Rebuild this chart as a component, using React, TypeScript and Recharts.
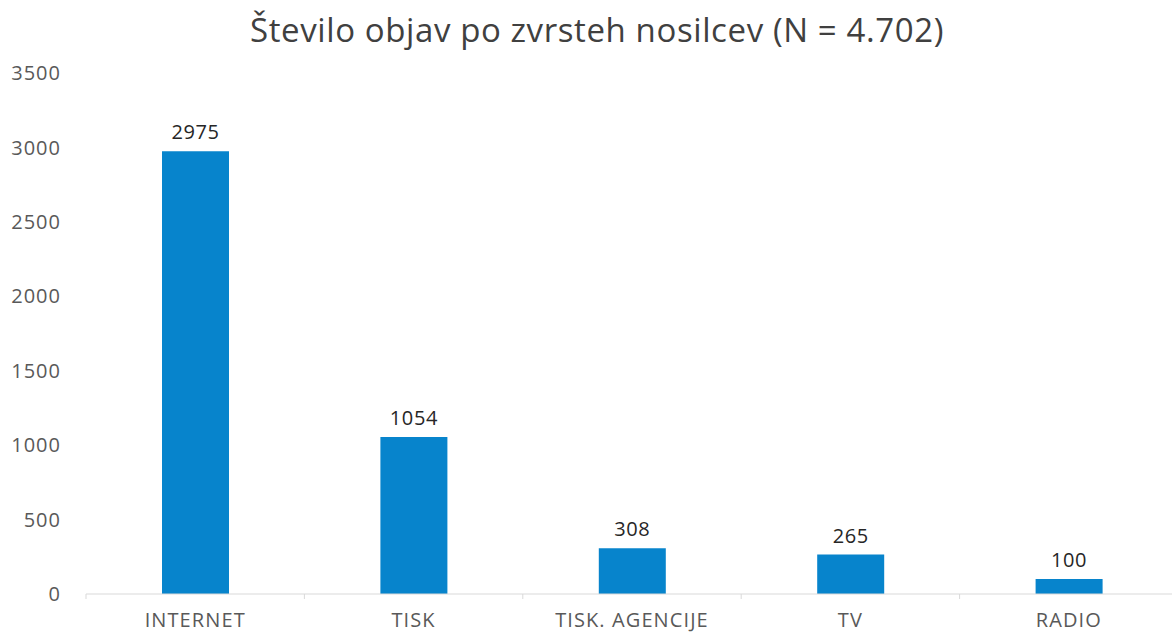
import React from "react";
import { BarChart, Bar, XAxis, YAxis, LabelList } from "recharts";

const categories = ["INTERNET", "TISK", "TISK. AGENCIJE", "TV", "RADIO"];
const counts = [2975, 1054, 308, 265, 100];
const yTicks = [0, 500, 1000, 1500, 2000, 2500, 3000, 3500];
const title = "Število objav po zvrsteh nosilcev (N = 4.702)";

const data = categories.map((c, i) => ({ name: c, value: counts[i] }));

const W = 1180;
const H = 632;
const M = { top: 73, right: 2, bottom: 8, left: 0 };
const Y_W = 86;
const BAND = (W - M.left - M.right - Y_W) / categories.length;
const FONT = "'Open Sans', 'Noto Sans', sans-serif";

const CatTick = (props: any) => {
  const { x, y, payload } = props;
  return (
    <g>
      <line x1={x - BAND / 2} x2={x - BAND / 2} y1={y} y2={y + 5} stroke="#d9d9d9" strokeWidth={1} />
      <text x={x} y={y + 33} textAnchor="middle" fill="#595959" fontSize={20} letterSpacing={1.1} fontFamily={FONT}>
        {payload.value}
      </text>
    </g>
  );
};

export default function App() {
  return (
    <div style={{ position: "absolute", left: 0, top: 0, width: 1172, height: 632, overflow: "hidden", background: "#fff" }}>
      <div
        style={{
          position: "absolute",
          left: 0,
          right: 0,
          top: 8,
          textAlign: "center",
          paddingLeft: 22,
          fontFamily: FONT,
          fontSize: 33,
          letterSpacing: 0.6,
          color: "#404040",
          lineHeight: "44px",
        }}
      >
        {title}
      </div>
      <BarChart width={W} height={H} data={data} margin={M} barCategoryGap={0}>
        <XAxis
          dataKey="name"
          height={30}
          axisLine={{ stroke: "#d9d9d9" }}
          tickLine={false}
          tickSize={0}
          tickMargin={0}
          tick={<CatTick />}
          interval={0}
        />
        <YAxis
          width={Y_W}
          domain={[0, 3500]}
          ticks={yTicks}
          axisLine={false}
          tickLine={false}
          tickSize={6}
          tickMargin={19}
          tick={{ fill: "#595959", fontSize: 20, letterSpacing: 1, fontFamily: FONT }}
        />
        <Bar dataKey="value" fill="#0784cc" barSize={67} isAnimationActive={false}>
          <LabelList dataKey="value" position="top" offset={12} fill="#262626" fontSize={20} letterSpacing={0.6} fontFamily={FONT} />
        </Bar>
      </BarChart>
    </div>
  );
}
